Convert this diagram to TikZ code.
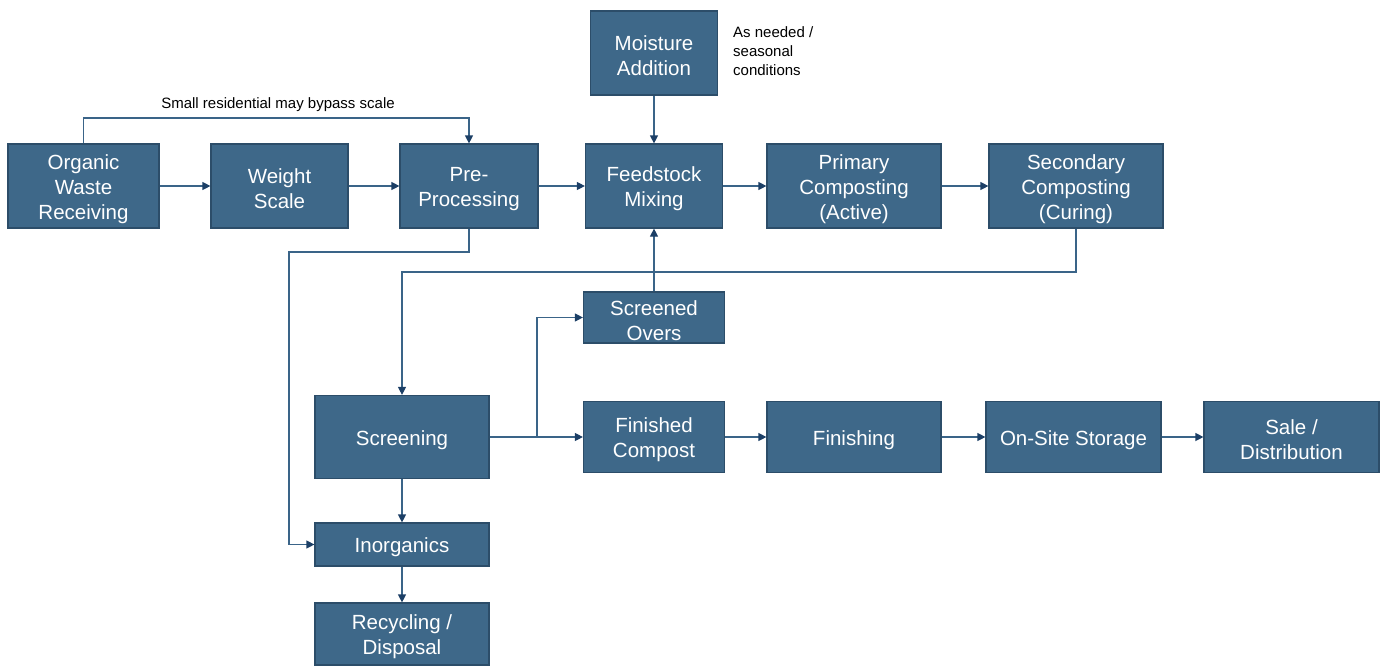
\documentclass[tikz,border=0pt]{standalone}
\usepackage{fontspec}
\setmainfont{Liberation Sans}
\usetikzlibrary{arrows.meta}
\definecolor{boxcol}{HTML}{3E6889}
\definecolor{bordercol}{HTML}{2C4D69}
\definecolor{linecol}{HTML}{3A6488}
\definecolor{tipcol}{HTML}{1C3F66}
\newcommand{\tstrut}{\rule{0pt}{21pt}}
\tikzset{
  box/.style={draw=bordercol, fill=boxcol, text=white, line width=1.2pt, inner sep=0pt, align=center,
    font=\fontsize{20.5}{25}\selectfont},
  conn/.style={draw=linecol, line width=1.2pt, -{Triangle[length=8pt,width=8pt,color=tipcol]}},
  note/.style={font=\fontsize{15}{19}\selectfont, text=black, inner sep=0pt}
}
\begin{document}
\begin{tikzpicture}[x=1pt,y=-1pt]
\useasboundingbox (0,0) rectangle (1380,667);
% boxes
\node[box, minimum width=151, minimum height=84] (owr) at (83.5,186) {\tstrut Organic\\Waste\\Receiving};
\node[box, minimum width=137, minimum height=84] (ws) at (279.5,186) {\tstrut Weight\\Scale};
\node[box, minimum width=138, minimum height=84] (pp) at (469,186) {\tstrut Pre-\\Processing};
\node[box, minimum width=137, minimum height=84] (fm) at (654,186) {\tstrut Feedstock\\Mixing};
\node[box, minimum width=127, minimum height=84] (ma) at (654,53) {\tstrut Moisture\\Addition};
\node[box, minimum width=174, minimum height=84] (pc) at (854,186) {\tstrut Primary\\Composting\\(Active)};
\node[box, minimum width=174, minimum height=84] (sc) at (1076,186) {\tstrut Secondary\\Composting\\(Curing)};
\node[box, minimum width=141, minimum height=51] (so) at (654,317.5) {\tstrut Screened\\Overs};
\node[box, minimum width=174, minimum height=83] (scr) at (402,437) {\tstrut Screening};
\node[box, minimum width=141, minimum height=71] (fc) at (654,437) {\tstrut Finished\\Compost};
\node[box, minimum width=174, minimum height=71] (fin) at (854,437) {\tstrut Finishing};
\node[box, minimum width=175, minimum height=71] (oss) at (1073.5,437) {\tstrut On-Site Storage};
\node[box, minimum width=175, minimum height=71] (sd) at (1291.5,437) {\tstrut Sale /\\Distribution};
\node[box, minimum width=174, minimum height=43] (inorg) at (402,544.5) {\tstrut Inorganics};
\node[box, minimum width=174, minimum height=62] (rd) at (402,634) {\tstrut Recycling /\\Disposal};
% notes
\node[note, anchor=south] (bypasslbl) at (278,112) {Small residential may bypass scale};
\node[note, anchor=north west, align=left] (asneeded) at (733,26) {As needed /\\seasonal\\conditions};
% helper coordinates
\coordinate (yb) at (0,118);
\coordinate (y2) at (0,272);
\coordinate (y3) at (0,252);
\coordinate (x3) at (289,0);
\coordinate (x4) at (537,0);
% connectors
\draw[conn] (owr) -- (ws);
\draw[conn] (ws) -- (pp);
\draw[conn] (pp) -- (fm);
\draw[conn] (fm) -- (pc);
\draw[conn] (pc) -- (sc);
\draw[conn] (ma) -- (fm);
\draw[conn] (owr.north) -- (owr.north |- yb) -| (pp.north);
\draw[conn] (sc.south) -- (sc.south |- y2) -| (scr.north);
\draw[conn] (pp.south) -- (pp.south |- y3) -| (x3 |- inorg.west) -- (inorg.west);
\draw[conn] (scr.east) -- (scr.east -| x4) |- (so.west);
\draw[conn] (scr.east) -- (fc.west);
\draw[conn] (so) -- (fm);
\draw[conn] (fc) -- (fin);
\draw[conn] (fin) -- (oss);
\draw[conn] (oss) -- (sd);
\draw[conn] (scr) -- (inorg);
\draw[conn] (inorg) -- (rd);
\end{tikzpicture}
\end{document}
